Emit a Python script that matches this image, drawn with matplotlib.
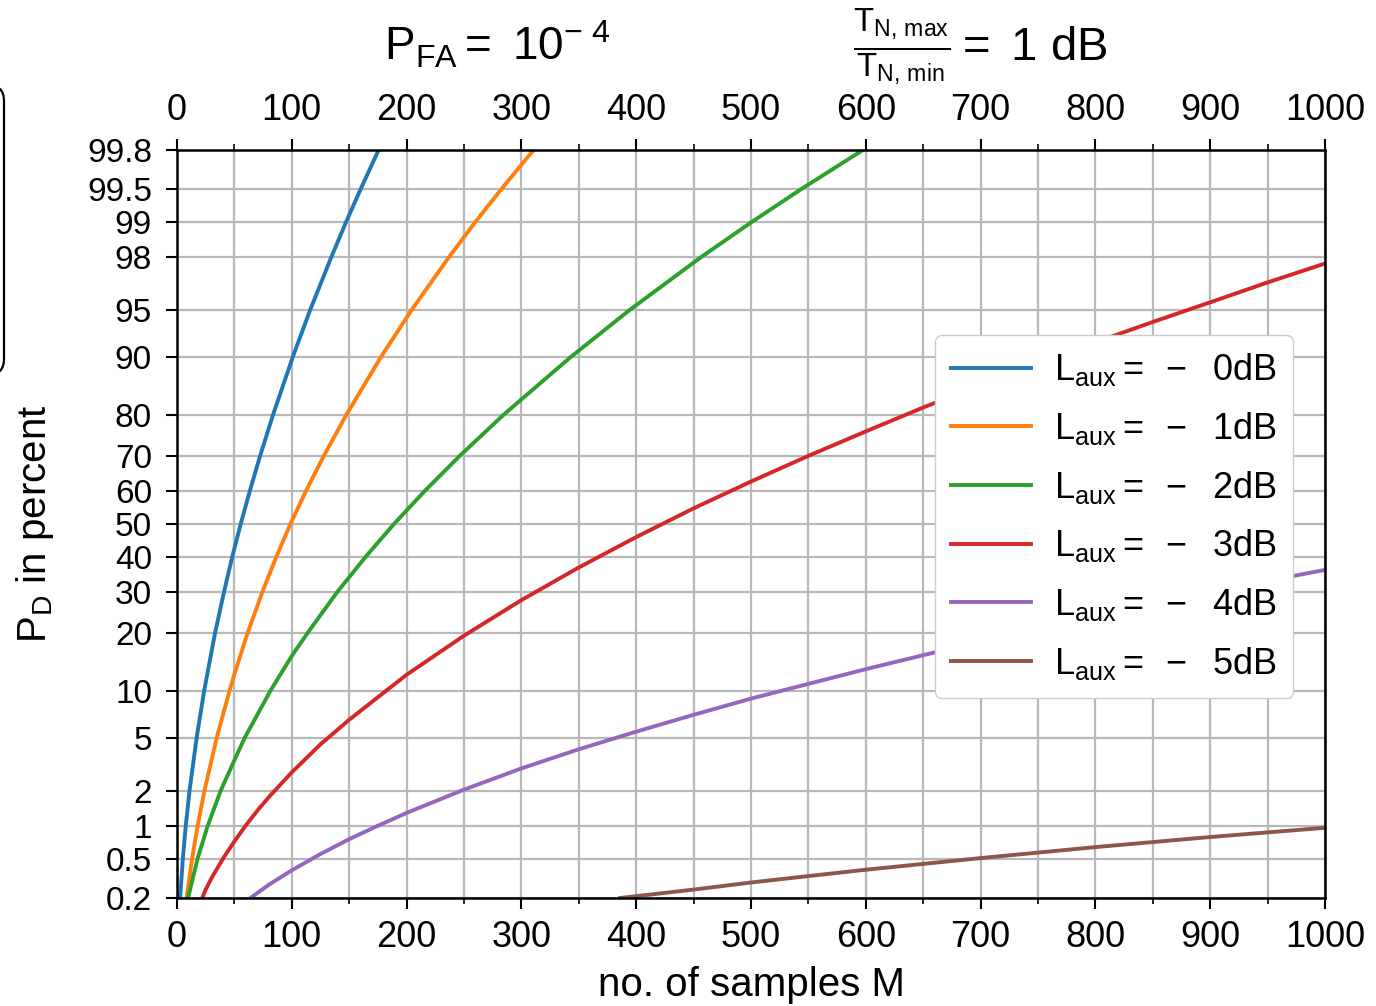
import math
import numpy as np
import matplotlib
matplotlib.use("Agg")
import matplotlib.pyplot as plt
from matplotlib.patches import FancyBboxPatch
from matplotlib.transforms import IdentityTransform

plt.rcParams['font.family'] = ['Liberation Sans', 'DejaVu Sans']
plt.rcParams['mathtext.fontset'] = 'custom'
plt.rcParams['mathtext.rm'] = 'Liberation Sans'
plt.rcParams['mathtext.it'] = 'Liberation Sans'
plt.rcParams['mathtext.default'] = 'regular'

# detection probability P_D in percent vs. number of samples M
pd_levels = [0.2, 0.5, 1, 2, 5, 10, 20, 30, 40, 50, 60, 70, 80, 90, 95, 98, 99, 99.5, 99.8]

m_0db = [2.7, 5.1, 7.6, 10.9, 17.1, 23.7, 33.1, 40.9, 48.1, 55.5, 63.4, 72.4, 83.7, 100.7, 115.9, 134.4, 147.4, 159.9, 175.6]

m_1db = [8.4, 13.1, 17.9, 23.9, 34.6, 45.8, 50, 61.4, 74.3, 86.5, 98.8, 112.3, 127.9, 147.6, 177.4, 204.2, 236.9, 260.1, 282.4, 310.6]
pd_1db = [0.2, 0.5, 1, 2, 5, 10, 12.4, 20, 30, 40, 50, 60, 70, 80, 90, 95, 98, 99, 99.5, 99.8]

m_2db = [9.6, 17.9, 26.6, 38, 50, 59, 81.5, 100, 113.5, 139.5, 164.2, 189, 215.7, 246.3, 284.6, 342.5, 394, 456.5, 501, 543.5, 597.5]
pd_2db = [0.2, 0.5, 1, 2, 3.45, 5, 10, 15.5, 20, 30, 40, 50, 60, 70, 80, 90, 95, 98, 99, 99.5, 99.8]

m_3db = [22, 25, 30, 40, 50, 60, 70, 80, 100, 125, 150, 200, 250, 300, 350, 400, 450,
         500, 550, 600, 650, 700, 750, 800, 850, 900, 950, 1000]
pd_3db = [0.2, 0.245, 0.32, 0.5, 0.73, 1.02, 1.37, 1.78, 2.8, 4.5, 6.6, 12.3, 19.5, 27.9, 36.9, 46, 54.8,
          62.8, 70, 76.2, 81.5, 85.8, 89.2, 91.9, 94, 95.6, 96.85, 97.75]

m_4db = [64, 80, 100, 125, 150, 174, 200, 249, 300, 350, 400, 450, 500, 600, 659, 700, 800, 900, 984, 1000]
pd_4db = [0.2, 0.275, 0.385, 0.555, 0.765, 1.0, 1.31, 2.03, 3.0, 4.15, 5.5, 7.1, 8.95, 13.2, 16.1, 18.3, 23.9, 29.9, 35.2, 36.2]

m_5db = [386, 450, 500, 550, 600, 650, 700, 800, 900, 1000]
pd_5db = [0.2, 0.245, 0.29, 0.337, 0.39, 0.445, 0.507, 0.645, 0.8, 0.97]

series = [
    (m_0db, pd_levels, 0),
    (m_1db, pd_1db, 1),
    (m_2db, pd_2db, 2),
    (m_3db, pd_3db, 3),
    (m_4db, pd_4db, 4),
    (m_5db, pd_5db, 5),
]
colors = ['#1f77b4', '#ff7f0e', '#2ca02c', '#d62728', '#9467bd', '#8c564b']

y_ticks = [0.2, 0.5, 1, 2, 5, 10, 20, 30, 40, 50, 60, 70, 80, 90, 95, 98, 99, 99.5, 99.8]
y_ticklabels = ['0.2', '0.5', '1', '2', '5', '10', '20', '30', '40', '50', '60',
                '70', '80', '90', '95', '98', '99', '99.5', '99.8']


# normal probability (probit) axis
def _ppf(p):
    p = np.clip(np.asarray(p, dtype=float), 1e-12, 1 - 1e-12)
    a = [-3.969683028665376e+01, 2.209460984245205e+02, -2.759285104469687e+02,
         1.383577518672690e+02, -3.066479806614716e+01, 2.506628277459239e+00]
    b = [-5.447609879822406e+01, 1.615858368580409e+02, -1.556989798598866e+02,
         6.680131188771972e+01, -1.328068155288572e+01]
    c = [-7.784894002430293e-03, -3.223964580411365e-01, -2.400758277161838e+00,
         -2.549671010139501e+00, 4.374664141464968e+00, 2.938163982698783e+00]
    d = [7.784695709041462e-03, 3.224671290700398e-01, 2.445134137142996e+00,
         3.754408661907416e+00]
    plow = 0.02425
    out = np.empty_like(p)
    lo = p < plow
    hi = p > 1 - plow
    mid = ~(lo | hi)
    q = np.sqrt(-2 * np.log(p[lo]))
    out[lo] = (((((c[0]*q + c[1])*q + c[2])*q + c[3])*q + c[4])*q + c[5]) / \
              ((((d[0]*q + d[1])*q + d[2])*q + d[3])*q + 1)
    q = np.sqrt(-2 * np.log(1 - p[hi]))
    out[hi] = -(((((c[0]*q + c[1])*q + c[2])*q + c[3])*q + c[4])*q + c[5]) / \
               ((((d[0]*q + d[1])*q + d[2])*q + d[3])*q + 1)
    q = p[mid] - 0.5
    r = q * q
    out[mid] = (((((a[0]*r + a[1])*r + a[2])*r + a[3])*r + a[4])*r + a[5]) * q / \
               (((((b[0]*r + b[1])*r + b[2])*r + b[3])*r + b[4])*r + 1)
    return out


_erf = np.vectorize(math.erf)


def fwd(y):
    return _ppf(np.asarray(y, dtype=float) / 100.0)


def inv(z):
    return 50.0 * (1.0 + _erf(np.asarray(z, dtype=float) / math.sqrt(2.0)))


fig = plt.figure(figsize=(13.76, 10.06), dpi=100)
ax = fig.add_axes([177 / 1376, 1 - 898 / 1006, 1148 / 1376, 748 / 1006])
ax.set_yscale('function', functions=(fwd, inv))

for m, pd, k in series:
    ax.plot(m, pd, color=colors[k], lw=2.8,
            label=r'$L_{aux} = \ -\ \ %d$dB' % k)

ax.set_xlim(0, 1000)
ax.set_ylim(0.2, 99.8)
ax.set_xticks(np.arange(0, 1001, 100))
ax.set_xticks(np.arange(50, 1000, 100), minor=True)
ax.set_yticks(y_ticks)
ax.set_yticklabels(y_ticklabels)
ax.yaxis.set_minor_locator(matplotlib.ticker.NullLocator())

ax.grid(True, which='both', axis='x', color='#b8b8b8', lw=1.6)
ax.grid(True, which='major', axis='y', color='#b8b8b8', lw=1.6)
ax.set_axisbelow(True)

ax.tick_params(which='major', direction='out', length=8, width=1.5,
               pad=8, top=True, labeltop=True, right=False)
ax.tick_params(axis='x', labelsize=26)
ax.tick_params(axis='y', labelsize=24, pad=10)
ax.tick_params(which='minor', direction='out', length=4, width=1.2,
               top=True, right=False)
for s in ax.spines.values():
    s.set_linewidth(1.8)

ax.set_xlabel('no. of samples M', fontsize=29)
ax.set_ylabel(r'$P_D$ in percent', fontsize=29)
ax.xaxis.set_label_coords(0.5, (898 - 985) / 748)
ax.yaxis.set_label_coords((35 - 177) / 1148, 0.5)
ax.xaxis.label.set_va('center')
ax.yaxis.label.set_va('center')

leg = ax.legend(loc='upper left', bbox_to_anchor=(935 / 1376, 1 - 335 / 1006),
                bbox_transform=fig.transFigure, borderaxespad=0, fontsize=26,
                handlelength=2.2, labelspacing=0.6, borderpad=0.45,
                handletextpad=0.65, framealpha=1)

fig.text(497 / 1376, 1 - 45 / 1006, r'$P_{FA} = \ 10^{-\ 4}$', fontsize=33,
         ha='center', va='center')
fig.text(853 / 1376, 1 - 47 / 1006, r'$\frac{T_{N,\,max}}{T_{N,\,min}} = \ 1\ dB$',
         fontsize=34, ha='left', va='center')

# partial frame at the left edge
fig.patches.append(FancyBboxPatch((-60, 1006 - 375), 64, 290,
                                  boxstyle='round,pad=0,rounding_size=16',
                                  transform=IdentityTransform(), figure=fig,
                                  fill=False, edgecolor='black', lw=1.6))

fig.savefig('out.png', dpi=100)
